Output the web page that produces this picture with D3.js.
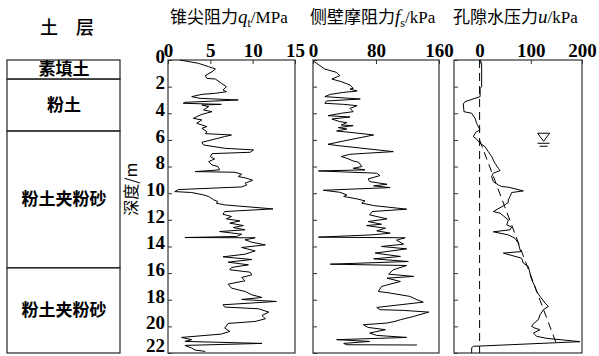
<!DOCTYPE html>
<meta charset="utf-8">
<style type="text/css">
	body { margin: 0; background: #fff; }
	.frame { fill: none; stroke: #333; stroke-width: 1.2; }
	.trace { fill: none; stroke: #000; stroke-width: 1; stroke-linejoin: round; }
	.dash { fill: none; stroke: #000; stroke-width: 1; stroke-dasharray: 8,5; }
	.num { font-family: "Liberation Serif", "DejaVu Serif", serif; font-weight: bold; font-size: 19px; fill: #000; }
	.cjk { font-family: "Noto Sans CJK SC", sans-serif; }
</style>
<body>
<div id="chart"></div>
<script src="https://cdn.jsdelivr.net/npm/d3@7"></script>
<script>

	// depth axis (m)
	const depthTicks = [0, 2, 4, 6, 8, 10, 12, 14, 16, 18, 20, 22];

	// soil layers
	const layerNames = ["素填土", "粉土", "粉土夹粉砂", "粉土夹粉砂"];
	const layerTop = [0, 1.43, 5.33, 15.6];
	const layerBottom = [1.43, 5.33, 15.6, 22];

	// cone resistance qt (MPa)
	const qtTicks = [0, 5, 10, 15];
	const qtDepth = [0, 0.25, 0.5, 0.68, 0.88, 1.18, 1.38, 1.43, 1.75, 2.0, 2.25, 2.38, 2.5, 2.58, 2.75, 2.88, 3.0, 3.18, 3.25, 3.33,
		3.38, 3.5, 3.75, 3.88, 4.08, 4.25, 4.38, 4.5, 4.75, 4.88, 5.0, 5.13, 5.38, 5.53, 5.63, 5.75, 6.18, 6.38, 6.63, 6.75,
		6.93, 7.03, 7.25, 7.43, 7.63, 7.88, 8.0, 8.25, 8.38, 8.43, 8.58, 8.75, 8.88, 9.03, 9.25, 9.38, 9.53, 9.73, 9.88, 9.95,
		10.13, 10.25, 10.5, 10.63, 10.75, 10.88, 11.18, 11.38, 11.58, 11.75, 11.93, 12.08, 12.25, 12.43, 12.58, 12.75, 12.88, 13.08, 13.25, 13.33,
		13.35, 13.5, 13.68, 13.88, 14.08, 14.33, 14.58, 14.78, 14.98, 15.18, 15.38, 15.58, 15.75, 15.93, 16.13, 16.33, 16.58, 16.83, 17.13, 17.38,
		17.63, 17.83, 17.98, 18.13, 18.38, 18.55, 18.68, 18.93, 19.18, 19.43, 19.63, 19.78, 20.13, 20.38, 20.58, 20.83, 21.0, 21.13, 21.28, 21.43,
		21.63, 21.78, 21.88];
	const qtValue = [1.4, 3.6, 4.8, 5.6, 5.2, 4.4, 4.6, 5.6, 6.3, 6.9, 6.5, 6.9, 5.6, 4.0, 2.8, 3.8, 8.3, 2.0, 1.8, 6.3,
		4.0, 4.8, 4.2, 5.2, 4.0, 3.4, 3.0, 4.0, 3.4, 4.0, 4.6, 4.0, 4.6, 4.4, 7.5, 6.7, 4.0, 4.2, 6.7, 10.1,
		9.7, 5.2, 5.0, 5.5, 4.8, 5.2, 5.9, 6.1, 3.2, 7.9, 8.7, 8.3, 9.3, 10.0, 9.1, 9.3, 8.7, 1.2, 0.8, 2.8,
		4.2, 4.8, 5.4, 5.9, 5.7, 6.7, 12.4, 6.7, 6.5, 7.5, 6.9, 8.5, 7.3, 8.9, 7.7, 9.1, 6.1, 8.7, 8.1, 2.0,
		10.3, 9.1, 9.9, 11.5, 8.7, 10.3, 9.1, 6.5, 9.9, 7.1, 9.5, 7.5, 7.3, 9.7, 9.9, 8.7, 9.1, 7.1, 7.5, 9.1,
		9.9, 11.1, 8.7, 12.8, 6.5, 6.7, 10.7, 11.9, 11.1, 11.5, 10.3, 7.1, 6.7, 7.3, 6.3, 1.6, 2.8, 2.0, 11.1, 2.0,
		2.8, 3.2, 4.4];

	// sleeve friction fs (kPa)
	const fsTicks = [0, 80, 160];
	const fsDepth = [0.1, 0.68, 0.93, 1.18, 1.43, 1.63, 1.88, 2.13, 2.18, 2.33, 2.43, 2.58, 2.75, 2.93, 3.08, 3.25, 3.33, 3.43, 3.63, 3.88,
		4.0, 4.18, 4.28, 4.43, 4.63, 4.7, 4.88, 4.93, 5.08, 5.18, 5.33, 5.43, 5.63, 6.08, 6.33, 6.43, 6.88, 7.0, 7.08, 7.25,
		7.38, 7.58, 7.68, 8.0, 8.13, 8.25, 8.33, 8.5, 8.68, 8.93, 9.13, 9.33, 9.45, 9.58, 9.78, 9.93, 10.13, 10.25, 10.43, 10.58,
		10.75, 10.93, 11.2, 11.38, 11.63, 11.93, 12.13, 12.33, 12.43, 12.63, 12.83, 13.0, 13.13, 13.3, 13.35, 13.53, 13.83, 14.0, 14.18, 14.5,
		14.75, 14.93, 15.13, 15.33, 15.43, 15.75, 16.08, 16.25, 16.38, 16.63, 17.0, 17.38, 17.5, 17.75, 18.0, 18.18, 18.58, 18.75, 18.8, 18.93,
		19.25, 19.5, 19.63, 19.75, 19.88, 20.08, 20.25, 20.5, 20.68, 20.83, 21.0, 21.13, 21.28, 21.38, 21.4];
	const fsValue = [1, 15, 30, 34, 24, 36, 47, 51, 47, 56, 39, 22, 15, 60, 17, 15, 39, 56, 47, 51,
		36, 19, 47, 24, 34, 43, 36, 51, 32, 43, 30, 47, 77, 39, 19, 32, 102, 68, 47, 36,
		43, 51, 58, 62, 51, 66, 7, 81, 85, 70, 72, 94, 77, 98, 13, 34, 43, 39, 56, 66,
		62, 77, 119, 75, 72, 94, 70, 87, 68, 92, 81, 98, 75, 7, 117, 106, 115, 87, 119, 79,
		111, 77, 121, 22, 119, 102, 96, 128, 94, 111, 87, 83, 98, 123, 132, 140, 81, 85, 115, 147,
		128, 111, 104, 94, 64, 70, 92, 72, 81, 119, 30, 72, 39, 43, 132];

	// pore water pressure u (kPa)
	const uTicks = [0, 100, 200];
	const uDepth = [0, 0.25, 2.0, 2.13, 2.75, 3.13, 3.3, 3.88, 4.0, 4.38, 4.75, 5.0, 5.25, 5.38, 5.5, 5.75, 5.95, 6.25, 6.5, 6.88,
		7.25, 7.75, 8.13, 8.3, 8.5, 8.75, 9.13, 9.38, 9.5, 9.55, 9.83, 9.95, 10.25, 10.5, 10.7, 10.95, 11.38, 11.5, 11.7, 12.0,
		12.38, 12.55, 12.75, 12.9, 13.13, 13.38, 13.75, 14.25, 14.38, 14.5, 14.88, 15.25, 15.5, 16.0, 16.5, 17.0, 17.38, 17.75, 18.25, 18.5,
		18.75, 19.13, 19.5, 19.8, 20.0, 20.13, 20.25, 20.5, 20.75, 20.9, 21.15, 21.5, 21.6, 22.0];
	const uValue = [1, 4, 4, 1, 1, -28.5, -31.8, -30.5, -15.5, -9, -5.7, -2.5, 0.8, -5.7, -9, -12.2, -5.7, 0.8, 10.5, 17,
		23.6, 30, 36.6, 40, 26.8, 23.6, 26.8, 36.6, 43, 56, 85.4, 62.6, 59.4, 56, 56, 46.4, 26.8, 39.9, 46.4, 56,
		53, 62.6, 59.4, 26.8, 56, 69, 75.6, 79, 82, 46.4, 82, 85.4, 95, 98.4, 101.7, 108, 111.5, 118, 127.8, 134.3,
		124.5, 118, 114.7, 105, 101.7, 108, 118, 105, 111.5, 131, 196, -12.2, -15.5, -15.5];

	// reference lines for u: u = 0 and hydrostatic line
	const zeroDepth = [0, 22];
	const zeroValue = [0, 0];
	const hydroDepth = [6, 21.2];
	const hydroValue = [0, 149];
	const waterMark = [125, 5.5]; // u, depth of the water table symbol

	const width = 599;
	const height = 356;

	const y = d3.scaleLinear().domain([0, 22]).range([60, 353]);

	const svg = d3.select("#chart").append("svg")
		.attr("width", width)
		.attr("height", height);

	const zip = (ds, vs) => ds.map((d, i) => [d, vs[i]]);

	const panels = [
		{ x: d3.scaleLinear().domain([0, 15]).range([168, 295]), ticks: qtTicks, series: [zip(qtDepth, qtValue)], labels: true },
		{ x: d3.scaleLinear().domain([0, 160]).range([313, 439]), ticks: fsTicks, series: [zip(fsDepth, fsValue)], labels: false },
		{ x: d3.scaleLinear().domain([-50, 200]).range([454, 582]), ticks: uTicks, series: [zip(uDepth, uValue)], labels: false,
			dashed: [zip(zeroDepth, zeroValue), zip(hydroDepth, hydroValue)] }
	];

	panels.forEach(p => {
		const g = svg.append("g");
		const [x0, x1] = p.x.range();
		const line = d3.line().x(d => p.x(d[1])).y(d => y(d[0]));

		g.append("rect").attr("class", "frame")
			.attr("x", x0).attr("y", y(0))
			.attr("width", x1 - x0).attr("height", y(22) - y(0));

		// top axis, ticks pointing in
		const top = g.append("g")
			.attr("transform", `translate(0, ${y(0)})`)
			.call(d3.axisTop(p.x).tickValues(p.ticks).tickSize(-4).tickPadding(3));
		top.select(".domain").remove();
		top.selectAll("line").attr("stroke", "#333");
		top.selectAll("text").attr("class", "num").attr("font-size", null).attr("font-family", null);

		// depth axis, ticks pointing in
		const left = g.append("g")
			.attr("transform", `translate(${x0}, 0)`)
			.call(d3.axisLeft(y).tickValues(depthTicks).tickSize(-4).tickPadding(3));
		left.select(".domain").remove();
		left.selectAll("line").attr("stroke", "#333");
		if (p.labels) {
			// last label squeezed up so it stays inside the picture
			left.selectAll("text").attr("class", "num").attr("font-size", null).attr("font-family", null)
				.attr("dy", d => d === 22 ? "-0.08em" : "0.12em");
		} else {
			left.selectAll("text").remove();
		}

		(p.dashed || []).forEach(s => {
			g.append("path").attr("class", "dash").attr("d", line(s));
		});
		p.series.forEach(s => {
			g.append("path").attr("class", "trace").attr("d", line(s));
		});
	});

	// water table symbol
	const wx = panels[2].x(waterMark[0]);
	const wy = y(waterMark[1]);
	svg.append("path")
		.attr("d", `M${wx - 6},${wy}L${wx + 6},${wy}L${wx},${wy + 8}Z`)
		.attr("fill", "none").attr("stroke", "#000").attr("stroke-width", 1);
	svg.append("line").attr("x1", wx - 6).attr("x2", wx + 6).attr("y1", wy + 10).attr("y2", wy + 10).attr("stroke", "#000");
	svg.append("line").attr("x1", wx - 4).attr("x2", wx + 4).attr("y1", wy + 13).attr("y2", wy + 13).attr("stroke", "#000");

	// titles
	function title(x, cn, sym, sub, unit) {
		const t = svg.append("text").attr("x", x).attr("y", 23).attr("font-size", 17);
		t.append("tspan").attr("class", "cjk").text(cn);
		t.append("tspan").attr("font-family", "Liberation Serif").attr("font-style", "italic").attr("font-size", 19).text(sym);
		if (sub) t.append("tspan").attr("font-family", "Liberation Serif").attr("font-size", 12).attr("dy", 4).text(sub);
		t.append("tspan").attr("font-family", "Liberation Serif").attr("font-size", 17).attr("dy", sub ? -4 : 0).text(unit);
	}
	title(170, "锥尖阻力", "q", "t", "/MPa");
	title(310, "侧壁摩阻力", "f", "s", "/kPa");
	title(453, "孔隙水压力", "u", null, "/kPa");

	svg.append("text").attr("class", "cjk")
		.attr("x", 67).attr("y", 34).attr("text-anchor", "middle")
		.attr("font-size", 18).attr("font-weight", 500)
		.text("土\u2003层");

	// depth label
	svg.append("text").attr("class", "cjk")
		.attr("transform", `translate(137, ${y(9.7)}) rotate(-90)`)
		.attr("text-anchor", "middle").attr("font-size", 16)
		.text("深度/m");

	// soil column
	const soil = svg.append("g");
	soil.selectAll("rect").data(layerNames).enter().append("rect")
		.attr("x", 7).attr("width", 113)
		.attr("y", (d, i) => y(layerTop[i]))
		.attr("height", (d, i) => y(layerBottom[i]) - y(layerTop[i]))
		.attr("fill", "none").attr("stroke", "#222").attr("stroke-width", 1.2);
	soil.selectAll("text").data(layerNames).enter().append("text")
		.attr("class", "cjk")
		.attr("x", 64)
		.attr("y", (d, i) => (y(layerTop[i]) + y(layerBottom[i])) / 2)
		.attr("dy", "0.35em")
		.attr("text-anchor", "middle")
		.attr("font-size", 17).attr("font-weight", 700)
		.text(d => d);

</script>
</body>
